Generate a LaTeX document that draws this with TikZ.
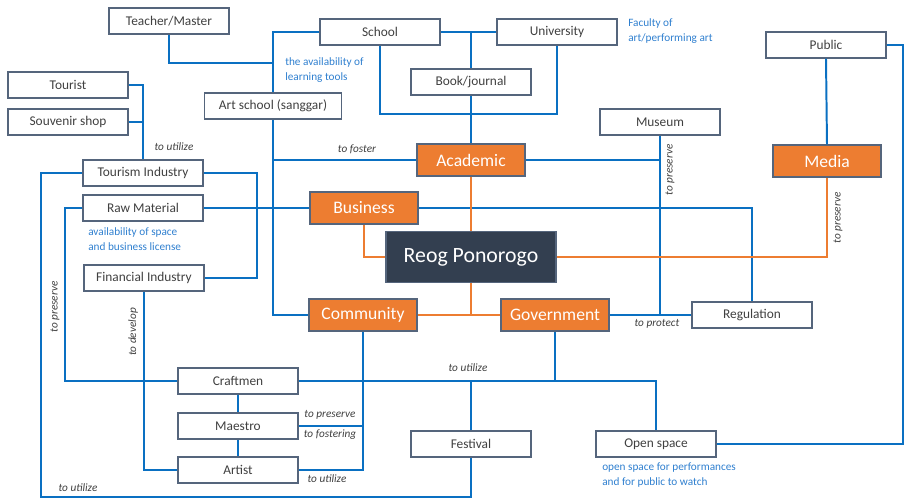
\documentclass[tikz,border=0pt]{standalone}
\usepackage{fontspec}
\setmainfont{Carlito}
\usepackage{xcolor}
\usetikzlibrary{calc}
\definecolor{reogorange}{HTML}{ED7D31}
\definecolor{reognavy}{HTML}{333F50}
\definecolor{linkblue}{HTML}{0A70C2}
\definecolor{boxedge}{HTML}{55657C}
\definecolor{txtgray}{HTML}{404040}
\definecolor{notblue}{HTML}{2F7FCF}

\begin{document}
\begin{tikzpicture}[x=0.025cm,y=-0.025cm,
    box/.style={draw=boxedge,line width=0.9pt,fill=white,text=txtgray,minimum width=3cm,minimum height=0.65cm,inner sep=0pt,font=\fontsize{9.5}{11}\selectfont},
    hub/.style={draw=boxedge,line width=0.9pt,fill=reogorange,text=white,minimum width=2.7cm,minimum height=0.8cm,inner sep=0pt,font=\fontsize{12.5}{14}\selectfont},
    bl/.style={linkblue,line width=1.4pt},
    og/.style={reogorange,line width=1.1pt},
    verb/.style={text=txtgray,font=\fontsize{8}{10}\selectfont\itshape,inner sep=1pt},
    note/.style={text=notblue,font=\fontsize{8}{10.5}\selectfont,align=left,anchor=west,inner sep=0pt}]
    \useasboundingbox (0,0) rectangle (904,500);

    % boxes
    \node[box] (teacher) at (169,21) {Teacher/Master};
    \node[box] (school) at (380,32) {School};
    \node[box] (univ) at (557,32) {University};
    \node[box] (public) at (826,45) {Public};
    \node[box] (book) at (471,82) {Book/journal};
    \node[box,minimum width=3.425cm] (art) at (273,106) {Art school (sanggar)};
    \node[box] (tourist) at (68,85) {Tourist};
    \node[box] (souvenir) at (68,122) {Souvenir shop};
    \node[box] (museum) at (660,122) {Museum};
    \node[box] (tourism) at (143,173) {Tourism Industry};
    \node[box] (raw) at (143,208) {Raw Material};
    \node[box] (finance) at (144,278) {Financial Industry};
    \node[box] (regulation) at (752,315) {Regulation};
    \node[box] (craftmen) at (238,381) {Craftmen};
    \node[box] (maestro) at (238,426) {Maestro};
    \node[box] (artist) at (238,470) {Artist};
    \node[box] (festival) at (471,444) {Festival};
    \node[box] (openspace) at (656,444) {Open space};

    \node[hub] (academic) at (471,160) {Academic};
    \node[hub] (media) at (827,161) {Media};
    \node[hub] (business) at (364,208) {Business};
    \node[hub] (community) at (363,315) {Community};
    \node[hub] (government) at (555,315) {Government};
    \node[hub,fill=reognavy,minimum width=4.25cm,minimum height=1.275cm,font=\fontsize{15.5}{18}\selectfont] (reog) at (471,257) {Reog Ponorogo};

    \coordinate (tj) at (273,63);
    \coordinate (bj) at (471,114);
    \coordinate (sw) at (41,497);
    \coordinate (te) at (257,173);
    \coordinate (rw) at (65,208);
    \coordinate (ne) at (903,45);

    % blue links
    \draw[bl] (school.west) -| (art.north);
    \draw[bl] (teacher.south) |- (tj);
    \draw[bl] (art.south) |- (community.west);
    \draw[bl] (art.south |- academic.west) -- (academic.west);
    \draw[bl] (school.south) |- (bj) -| (univ.south);
    \draw[bl] (school.east) -- (univ.west);
    \draw[bl] (school.east -| book.north) -- (book.north);
    \draw[bl] (book.south) -- (academic.north);
    \draw[bl] (tourist.east) -| (tourism.north);
    \draw[bl] (souvenir.east) -| (tourism.north);
    \draw[bl] (tourism.west) -| (sw) -| (festival.south);
    \draw[bl] (tourism.east) -- (te) |- (finance.east);
    \draw[bl] (raw.west) -- (rw) |- (craftmen.west);
    \draw[bl] (raw.east) -- (business.west);
    \draw[bl] (finance.south) |- (artist.west);
    \draw[bl] (craftmen.south) -- (maestro.north);
    \draw[bl] (maestro.south) -- (artist.north);
    \draw[bl] (craftmen.east) -| (openspace.north);
    \draw[bl] (community.south) |- (artist.east);
    \draw[bl] (maestro.east) -- (maestro.east -| community.south);
    \draw[bl] (festival.north) -- (festival.north |- craftmen.east);
    \draw[bl] (government.south) -- (government.south |- craftmen.east);
    \draw[bl] (business.east) -| (regulation.north);
    \draw[bl] (academic.east) -- (museum.south |- academic.east);
    \draw[bl] (museum.south) -- (museum.south |- government.east);
    \draw[bl] (government.east) -- (regulation.west);
    \draw[bl] (public.south) -- (media.north);
    \draw[bl] (public.east) -- (ne) |- (openspace.east);

    % orange links
    \draw[og] (academic.south) -- (reog.north);
    \draw[og] (business.south) |- (reog.west);
    \draw[og] (reog.east) -| (media.south);
    \draw[og] (community.east) -- (government.west);
    \draw[og] (reog.south) -- (reog.south |- community.east);

    % link verbs
    \node[verb] (v1) at (174,147) {to utilize};
    \node[verb] (v2) at (357,149) {to foster};
    \node[verb,rotate=90] (v3) at (55,307) {to preserve};
    \node[verb,rotate=90] (v4) at (133,332) {to develop};
    \node[verb] (v5) at (78,488) {to utilize};
    \node[verb] (v6) at (330,415) {to preserve};
    \node[verb] (v7) at (330,435) {to fostering};
    \node[verb] (v8) at (327,479) {to utilize};
    \node[verb] (v9) at (468,368) {to utilize};
    \node[verb] (v10) at (657,324) {to protect};
    \node[verb,rotate=90] (v11) at (670,170) {to preserve};
    \node[verb,rotate=90] (v12) at (838,218) {to preserve};

    % notes
    \node[note] (n1) at (285,70) {the availability of\\learning tools};
    \node[note] (n2) at (88,239) {availability of space\\and business license};
    \node[note] (n3) at (628,31) {Faculty of\\art/performing art};
    \node[note] (n4) at (602,475) {open space for performances\\and for public to watch};
\end{tikzpicture}
\end{document}
